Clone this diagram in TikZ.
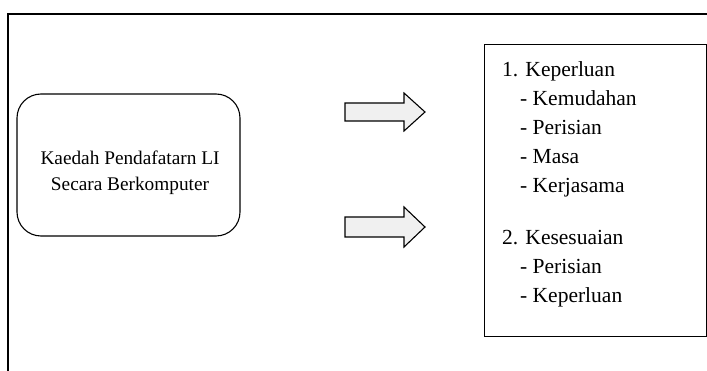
\documentclass[tikz,border=0pt]{standalone}
\usepackage{fontspec}
\setmainfont{Liberation Serif}
\begin{document}
\begin{tikzpicture}[x=1pt,y=-1pt]

\useasboundingbox (0,0) rectangle (707,371);

% Outer frame (cut at right and bottom)
\draw[line width=1.4pt] (8,371) -- (8,14) -- (707,14);

% Method box
\draw[line width=1.1pt, rounded corners=24pt] (17,94) rectangle (240,236);
\node[align=center, font=\fontsize{19.3}{26}\selectfont] (kaedah) at (130,173)
  {Kaedah Pendafatarn LI\\Secara Berkomputer};

% Block arrows
\draw[line width=1.1pt, fill=gray!12] (345,103) -- (404,103) -- (404,93) -- (425,112)
  -- (404,131) -- (404,121) -- (345,121) -- cycle;
\draw[line width=1.1pt, fill=gray!12] (345,217) -- (404,217) -- (404,207) -- (425,227)
  -- (404,247) -- (404,237) -- (345,237) -- cycle;

% Factors box
\draw[line width=0.9pt] (484,44) rectangle (706,336);
\node[anchor=north west, align=left, inner sep=0pt, font=\fontsize{21.5}{29}\selectfont]
  (faktor) at (502,61)
  {1. Keperluan\\
   \hspace*{18pt}- Kemudahan\\
   \hspace*{18pt}- Perisian\\
   \hspace*{18pt}- Masa\\
   \hspace*{18pt}- Kerjasama\\[23pt]
   2. Kesesuaian\\
   \hspace*{18pt}- Perisian\\
   \hspace*{18pt}- Keperluan};

\end{tikzpicture}
\end{document}
